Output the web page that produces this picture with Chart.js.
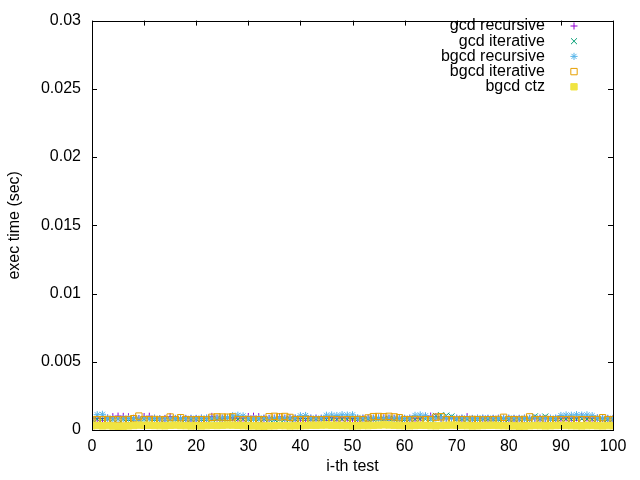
<!DOCTYPE html>
<html>
<head>
<meta charset="utf-8">
<script src="https://cdn.jsdelivr.net/npm/chart.js@4.4.1/dist/chart.umd.min.js"></script>
<style>
  html, body { margin: 0; padding: 0; background: #fff; }
  canvas { display: block; }
</style>
</head>
<body>
<canvas id="chart" width="640" height="480"></canvas>
<script>
// test index 0..100
let tests = Array.from({ length: 101 }, (_, i) => i);

let xTicks = [0, 10, 20, 30, 40, 50, 60, 70, 80, 90, 100];
let yTicks = [0, 0.005, 0.01, 0.015, 0.02, 0.025, 0.03];

let gcdRecursive = [
    .00082, .00085, .00084, .00088, .00098, .00102, .00100, .00097, .00086, .00084,
    .00099, .00101, .00086, .00083, .00085, .00098, .00084, .00086, .00085, .00083,
    .00084, .00086, .00085, .00100, .00087, .00084, .00086, .00088, .00085, .00087,
    .00099, .00101, .00098, .00086, .00085, .00087, .00097, .00086, .00088, .00086,
    .00085, .00084, .00086, .00087, .00085, .00088, .00090, .00086, .00089, .00087,
    .00085, .00084, .00086, .00087, .00085, .00088, .00089, .00086, .00085, .00087,
    .00084, .00086, .00085, .00087, .00100, .00102, .00099, .00086, .00085, .00084,
    .00086, .00085, .00098, .00084, .00086, .00085, .00083, .00084, .00086, .00085,
    .00084, .00083, .00085, .00086, .00084, .00085, .00086, .00084, .00085, .00083,
    .00086, .00088, .00087, .00089, .00099, .00088, .00086, .00087, .00085, .00084, .00083
];

let gcdIterative = [
    .00078, .00080, .00079, .00081, .00078, .00080, .00079, .00077, .00080, .00078,
    .00079, .00081, .00078, .00080, .00079, .00078, .00080, .00081, .00079, .00078,
    .00080, .00078, .00079, .00081, .00082, .00080, .00079, .00081, .00080, .00079,
    .00078, .00080, .00079, .00081, .00080, .00078, .00079, .00080, .00081, .00079,
    .00080, .00079, .00078, .00080, .00081, .00079, .00080, .00078, .00079, .00080,
    .00081, .00079, .00078, .00080, .00079, .00081, .00080, .00082, .00079, .00080,
    .00078, .00080, .00079, .00081, .00080, .00079, .00104, .00108, .00106, .00100,
    .00080, .00079, .00078, .00080, .00079, .00081, .00080, .00078, .00079, .00080,
    .00079, .00078, .00080, .00081, .00079, .00100, .00082, .00099, .00080, .00079,
    .00080, .00081, .00079, .00080, .00082, .00080, .00079, .00081, .00080, .00078, .00079
];

let bgcdRecursive = [
    .00082, .00112, .00115, .00088, .00084, .00083, .00085, .00086, .00084, .00083,
    .00085, .00084, .00086, .00083, .00082, .00084, .00085, .00083, .00084, .00086,
    .00085, .00087, .00088, .00086, .00089, .00090, .00092, .00105, .00108, .00103,
    .00086, .00085, .00087, .00086, .00084, .00086, .00088, .00087, .00086, .00089,
    .00104, .00106, .00088, .00086, .00087, .00108, .00110, .00106, .00112, .00109,
    .00111, .00090, .00087, .00086, .00088, .00087, .00086, .00089, .00087, .00088,
    .00086, .00087, .00107, .00110, .00104, .00088, .00087, .00086, .00085, .00087,
    .00086, .00088, .00087, .00085, .00086, .00088, .00087, .00086, .00085, .00087,
    .00088, .00086, .00085, .00087, .00086, .00088, .00087, .00085, .00086, .00088,
    .00106, .00110, .00108, .00112, .00109, .00111, .00105, .00090, .00087, .00086, .00085
];

let bgcdIterative = [
    .00074, .00076, .00075, .00077, .00075, .00076, .00074, .00077, .00083, .00102,
    .00076, .00075, .00077, .00074, .00076, .00095, .00075, .00090, .00076, .00074,
    .00075, .00076, .00074, .00093, .00096, .00095, .00094, .00096, .00076, .00075,
    .00077, .00074, .00076, .00075, .00097, .00100, .00096, .00099, .00092, .00076,
    .00075, .00077, .00076, .00074, .00075, .00076, .00077, .00075, .00074, .00076,
    .00075, .00077, .00076, .00088, .00098, .00099, .00097, .00100, .00096, .00090,
    .00076, .00075, .00077, .00074, .00076, .00075, .00094, .00097, .00076, .00075,
    .00074, .00076, .00075, .00077, .00076, .00074, .00075, .00076, .00077, .00093,
    .00075, .00076, .00074, .00077, .00096, .00075, .00076, .00077, .00075, .00074,
    .00076, .00075, .00077, .00074, .00076, .00075, .00076, .00077, .00090, .00075, .00076
];

let bgcdCtz = [
    .00031, .00033, .00030, .00032, .00029, .00027, .00028, .00030, .00033, .00036,
    .00034, .00035, .00033, .00032, .00031, .00034, .00036, .00033, .00032, .00030,
    .00031, .00030, .00032, .00034, .00033, .00035, .00037, .00036, .00034, .00032,
    .00031, .00030, .00029, .00028, .00030, .00031, .00033, .00032, .00030, .00031,
    .00032, .00033, .00035, .00034, .00036, .00037, .00035, .00034, .00033, .00032,
    .00030, .00031, .00033, .00032, .00034, .00036, .00038, .00037, .00035, .00033,
    .00032, .00031, .00033, .00035, .00034, .00032, .00031, .00033, .00034, .00036,
    .00035, .00033, .00032, .00030, .00031, .00033, .00034, .00035, .00033, .00032,
    .00031, .00030, .00028, .00029, .00031, .00033, .00032, .00030, .00031, .00033,
    .00034, .00033, .00032, .00031, .00030, .00032, .00033, .00031, .00030, .00032, .00031
];

let seriesNames = ["gcd recursive", "gcd iterative", "bgcd recursive", "bgcd iterative", "bgcd ctz"];
let seriesValues = [gcdRecursive, gcdIterative, bgcdRecursive, bgcdIterative, bgcdCtz];

// gnuplot look
let colors = ["#9400d3", "#009e73", "#56b4e9", "#e69f00", "#f0e442"];
let styles = ["cross", "crossRot", "star", "rect", "rect"];
let radii = [3.5, 4.2, 3.6, 4.5, 4.5];
let fills = ["rgba(0,0,0,0)", "rgba(0,0,0,0)", "rgba(0,0,0,0)", "rgba(0,0,0,0)", "#f0e442"];

Chart.defaults.font.family = "'Liberation Sans', Arial, sans-serif";
Chart.defaults.font.size = 16;
Chart.defaults.color = "#000";

let datasets = seriesNames.map((name, k) => ({
    label: name,
    data: tests.map((t, i) => ({ x: t, y: seriesValues[k][i] })),
    pointStyle: styles[k],
    pointRadius: radii[k],
    pointBorderWidth: 1,
    pointBorderColor: colors[k],
    pointBackgroundColor: fills[k],
    borderColor: colors[k],
    backgroundColor: fills[k],
    showLine: false,
    order: seriesNames.length - k
}));

// frame, inward ticks and gnuplot-style key
let frame = {
    id: "frame",
    afterDraw(chart) {
        let ctx = chart.ctx;
        let a = chart.chartArea;
        let xs = chart.scales.x, ys = chart.scales.y;
        let len = 5;
        ctx.save();
        ctx.strokeStyle = "#000";
        ctx.lineWidth = 1;
        ctx.beginPath();
        xTicks.forEach(v => {
            let px = Math.round(xs.getPixelForValue(v)) + 0.5;
            ctx.moveTo(px, a.bottom); ctx.lineTo(px, a.bottom - len);
            ctx.moveTo(px, a.top); ctx.lineTo(px, a.top + len);
        });
        yTicks.forEach(v => {
            let py = Math.round(ys.getPixelForValue(v)) + 0.5;
            ctx.moveTo(a.left, py); ctx.lineTo(a.left + len, py);
            ctx.moveTo(a.right, py); ctx.lineTo(a.right - len, py);
        });
        ctx.stroke();
        ctx.strokeRect(Math.round(a.left) + 0.5, Math.round(a.top) + 0.5,
            Math.round(a.right - a.left), Math.round(a.bottom - a.top));

        // key
        ctx.font = "16px 'Liberation Sans', Arial, sans-serif";
        ctx.textAlign = "right";
        ctx.textBaseline = "middle";
        seriesNames.forEach((name, k) => {
            let y = 26 + k * 15.2;
            ctx.fillStyle = "#000";
            ctx.fillText(name, 545, y);
            ctx.strokeStyle = colors[k];
            ctx.fillStyle = fills[k];
            ctx.lineWidth = 1;
            Chart.helpers.drawPoint(ctx, {
                pointStyle: styles[k], radius: radii[k], rotation: 0, borderWidth: 1
            }, 574, y);
        });
        ctx.restore();
    }
};

new Chart(document.getElementById("chart"), {
    type: "scatter",
    data: { datasets: datasets },
    plugins: [frame],
    options: {
        responsive: false,
        animation: false,
        devicePixelRatio: 1,
        layout: { padding: { top: 16, right: 27, left: 0, bottom: 0 } },
        plugins: { legend: { display: false }, tooltip: { enabled: false } },
        scales: {
            x: {
                type: "linear",
                min: 0, max: 100,
                afterFit: s => { s.height = 50; },
                afterBuildTicks: s => { s.ticks = xTicks.map(v => ({ value: v })); },
                grid: { display: false, drawTicks: false },
                border: { display: false },
                ticks: { padding: 7, maxRotation: 0 },
                title: { display: true, text: "i-th test", padding: { top: 4, bottom: 4 } }
            },
            y: {
                type: "linear",
                min: 0, max: 0.03,
                afterFit: s => { s.width = 92; },
                afterBuildTicks: s => { s.ticks = yTicks.map(v => ({ value: v })); },
                grid: { display: false, drawTicks: false },
                border: { display: false },
                ticks: {
                    padding: 11,
                    callback: v => String(parseFloat(Number(v).toFixed(4)))
                },
                title: { display: true, text: "exec time (sec)", padding: { top: 5, bottom: 0 } }
            }
        }
    }
});
</script>
</body>
</html>
